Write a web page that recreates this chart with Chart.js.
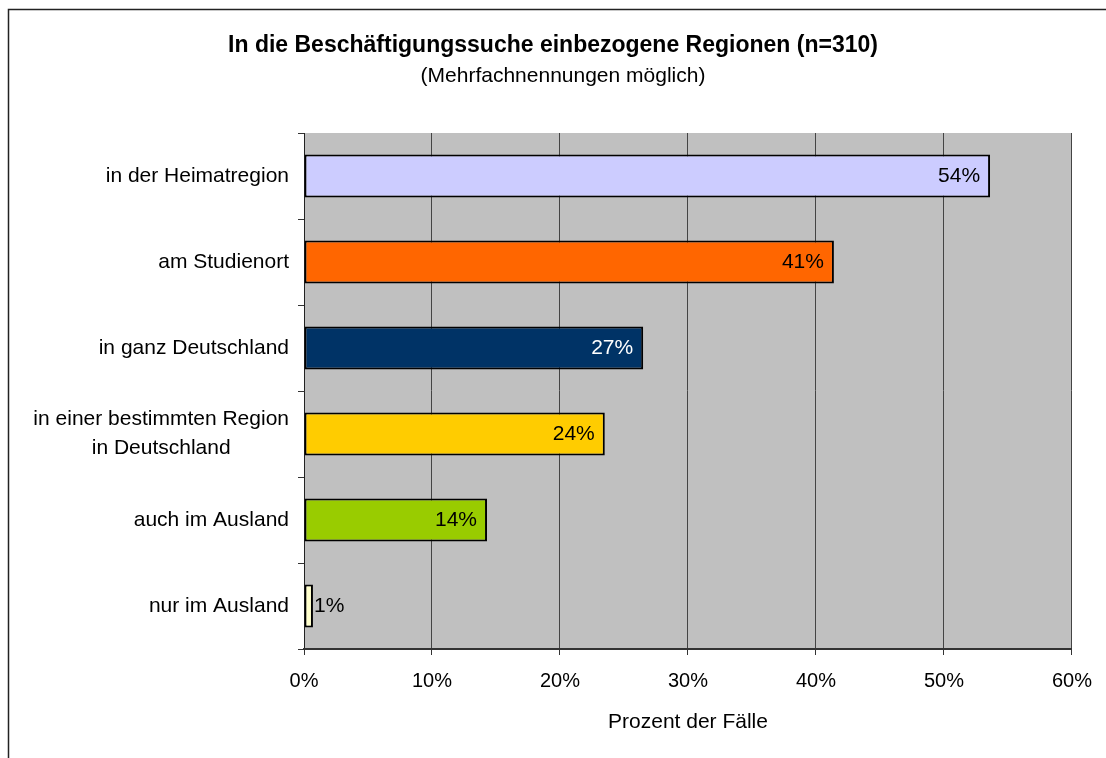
<!DOCTYPE html>
<html lang="de">
<head>
<meta charset="UTF-8">
<title>Beschäftigungssuche Regionen</title>
<script src="https://cdn.jsdelivr.net/npm/chart.js"></script>
<style>
  body { margin: 0; background: #fff; }
  canvas { display: block; }
</style>
</head>
<body>
<canvas id="chart" width="1106" height="758"></canvas>
<script>
// Daten
const kategorien = [
  ['in der Heimatregion'],
  ['am Studienort'],
  ['in ganz Deutschland'],
  ['in einer bestimmten Region', 'in Deutschland'],
  ['auch im Ausland'],
  ['nur im Ausland']
];
const werte = [53.6, 41.4, 26.5, 23.5, 14.3, 0.7];
const wertLabels = ['54%', '41%', '27%', '24%', '14%', '1%'];
const farben = ['#CCCCFF', '#FF6600', '#003366', '#FFCC00', '#99CC00', '#FFFFCC'];
const labelFarben = ['#000', '#000', '#fff', '#000', '#000', '#000'];
const xTicks = [0, 10, 20, 30, 40, 50, 60];

const titel = 'In die Beschäftigungssuche einbezogene Regionen (n=310)';
const untertitel = '(Mehrfachnennungen möglich)';
const achsenTitel = 'Prozent der Fälle';

const FONT = '"Liberation Sans", Arial, sans-serif';

// grauer Hintergrund der Zeichenfläche
const plotHintergrund = {
  id: 'plotHintergrund',
  beforeDraw(chart) {
    const {ctx, chartArea: a} = chart;
    ctx.save();
    ctx.fillStyle = '#C0C0C0';
    ctx.fillRect(a.left, a.top, a.right - a.left, a.bottom - a.top);
    ctx.restore();
  }
};

// Titel, Rahmen, Kategorienamen und Wertbeschriftungen
const texte = {
  id: 'texte',
  afterDraw(chart) {
    const ctx = chart.ctx;
    const yScale = chart.scales.y;
    ctx.save();

    // Rahmen (nur oben und links sichtbar)
    ctx.strokeStyle = '#222';
    ctx.lineWidth = 1.5;
    ctx.beginPath();
    ctx.moveTo(8.5, 800);
    ctx.lineTo(8.5, 9.5);
    ctx.lineTo(1200, 9.5);
    ctx.stroke();

    ctx.fillStyle = '#000';
    ctx.textAlign = 'center';
    ctx.textBaseline = 'middle';
    ctx.font = 'bold 23px ' + FONT;
    ctx.fillText(titel, 553, 46);
    ctx.font = '21px ' + FONT;
    ctx.fillText(untertitel, 563, 76);

    // Kategorienamen
    ctx.font = '21px ' + FONT;
    kategorien.forEach((zeilen, i) => {
      const yc = yScale.getPixelForValue(i);
      const breite = Math.max(...zeilen.map(z => ctx.measureText(z).width));
      const xc = 289 - breite / 2;
      const h = 29;
      zeilen.forEach((z, j) => {
        ctx.fillText(z, xc, yc + (j - (zeilen.length - 1) / 2) * h);
      });
    });

    // Wertbeschriftungen
    const meta = chart.getDatasetMeta(0);
    meta.data.forEach((bar, i) => {
      ctx.fillStyle = labelFarben[i];
      const breite = ctx.measureText(wertLabels[i]).width;
      if (bar.x - bar.base > breite + 14) {
        ctx.textAlign = 'right';
        ctx.fillText(wertLabels[i], bar.x - 10, bar.y);
      } else {
        ctx.textAlign = 'left';
        ctx.fillText(wertLabels[i], bar.x + 1, bar.y);
      }
    });
    ctx.restore();
  }
};

new Chart(document.getElementById('chart'), {
  type: 'bar',
  data: {
    labels: kategorien.map(z => z.join(' ')),
    datasets: [{
      data: werte,
      backgroundColor: farben,
      borderColor: '#000',
      borderWidth: 2,
      borderSkipped: false,
      barPercentage: 0.5,
      categoryPercentage: 1
    }]
  },
  options: {
    indexAxis: 'y',
    responsive: false,
    animation: false,
    layout: { padding: { top: 133, right: 34, left: 0, bottom: 0 } },
    plugins: {
      legend: { display: false },
      tooltip: { enabled: false }
    },
    scales: {
      y: {
        type: 'category',
        grid: { offset: true, drawOnChartArea: false, tickLength: 6, color: '#333' },
        border: { color: '#222', width: 1 },
        ticks: { display: false },
        afterFit(s) { s.width = 304; }
      },
      x: {
        min: 0,
        max: 60,
        afterBuildTicks(s) { s.ticks = xTicks.map(v => ({ value: v })); },
        ticks: {
          callback: v => v + '%',
          color: '#000',
          font: { family: FONT, size: 20 },
          padding: 14,
          maxRotation: 0
        },
        grid: { color: '#444', lineWidth: 1, tickLength: 6, tickColor: '#333' },
        border: { color: '#333', width: 2 },
        title: {
          display: true,
          text: achsenTitel,
          color: '#000',
          font: { family: FONT, size: 21 },
          padding: { top: 0, bottom: 23 }
        },
        afterFit(s) { s.height = 758 - 649; }
      }
    }
  },
  plugins: [plotHintergrund, texte]
});
</script>
</body>
</html>
